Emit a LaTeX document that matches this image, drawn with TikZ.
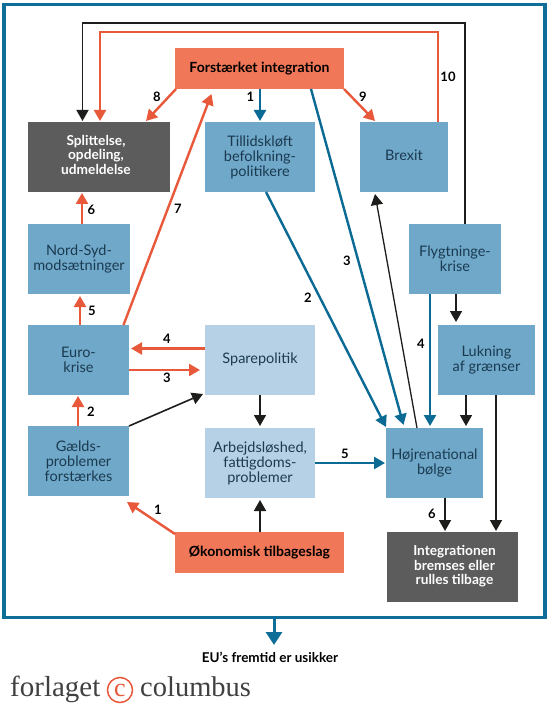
\documentclass[tikz,border=0pt]{standalone}
\usepackage{fontspec}
\setmainfont{Lato}
\newfontfamily\logofont{Liberation Serif}
\usetikzlibrary{arrows.meta}
\definecolor{frameblue}{HTML}{0F6E98}
\definecolor{arrowblue}{HTML}{0A6A93}
\definecolor{boxblue}{HTML}{6FA8C9}
\definecolor{boxlight}{HTML}{B6D1E5}
\definecolor{boxred}{HTML}{F07757}
\definecolor{boxdark}{HTML}{5C5C5C}
\definecolor{arrowred}{HTML}{E8583A}
\definecolor{inkblue}{HTML}{1B3A50}
\definecolor{arrowblack}{HTML}{1D1D1B}
\tikzset{
  x=1pt,y=-1pt,
  basebox/.style={inner sep=0pt,outer sep=0pt,align=center,font=\fontsize{14.5}{15}\selectfont},
  midbox/.style={basebox,fill=boxblue,text=inkblue,minimum height=70pt},
  lightbox/.style={basebox,fill=boxlight,text=inkblue,minimum height=70pt,minimum width=110pt},
  redbox/.style={basebox,fill=boxred,text=black,minimum height=41pt,minimum width=169pt,font=\fontsize{14}{15}\selectfont\bfseries},
  darkbox/.style={basebox,fill=boxdark,text=white,minimum height=70pt,font=\fontsize{13.7}{15}\selectfont\bfseries},
  tipstyle/.style={-{Triangle[length=11pt,width=12pt]}},
  redarrow/.style={tipstyle,draw=arrowred,line width=2.4pt},
  bluearrow/.style={tipstyle,draw=arrowblue,line width=2.4pt},
  blackarrow/.style={tipstyle,draw=arrowblack,line width=1.6pt},
  numlabel/.style={inner sep=0pt,font=\fontsize{13}{14}\selectfont\bfseries,text=black},
}
\begin{document}
\begin{tikzpicture}
\useasboundingbox (0,0) rectangle (550,708);
\fill[white] (0,0) rectangle (550,708);
% frame
\node[draw=frameblue,line width=3.8pt,minimum width=541pt,minimum height=613pt,inner sep=0pt,outer sep=0pt] (frame) at (274.5,311) {};
% boxes
\node[redbox] (forst) at (259.5,68.5) {Forstærket integration};
\node[darkbox,minimum width=142pt] (split) at (99,157) {\hspace*{-6pt}\raisebox{-2pt}{\begin{tabular}{@{}c@{}}Splittelse,\\[-0.2pt]opdeling,\\[-0.2pt]udmeldelse\end{tabular}}};
\node[midbox,minimum width=110pt] (tillid) at (260,157) {Tillidskløft\\befolkning-\\politikere};
\node[midbox,minimum width=88pt] (brexit) at (404,157) {\raisebox{3pt}{Brexit}};
\node[midbox,minimum width=102pt] (nord) at (79,259) {Nord-Syd-\\modsætninger};
\node[midbox,minimum width=92pt] (flygt) at (455,259) {Flygtninge-\\krise};
\node[midbox,minimum width=101pt] (euro) at (78.5,360) {Euro-\\krise};
\node[lightbox] (spare) at (260,360) {\raisebox{3pt}{Sparepolitik}};
\node[midbox,minimum width=97pt] (luk) at (486.5,360) {Lukning\\af grænser};
\node[midbox,minimum width=101pt] (gaeld) at (78.5,461) {Gælds-\\problemer\\forstærkes};
\node[lightbox] (arb) at (260,463) {Arbejdsløshed,\\fattigdoms-\\problemer};
\node[midbox,minimum width=97pt] (hoj) at (434.5,463) {Højrenational\\bølge};
\node[redbox] (okon) at (259.5,552.5) {Økonomisk tilbageslag};
\node[darkbox,minimum width=131pt] (integ) at (452.5,567) {\hspace*{4pt}\begin{tabular}{@{}c@{}}Integrationen\\[-0.2pt]bremses eller\\[-0.2pt]rulles tilbage\end{tabular}};
% top loops
\draw[blackarrow] ([shift={(10,0)}]flygt.north) -- ++(0,-201) -| ([shift={(-16.5,-1)}]split.north);
\draw[redarrow] ([shift={(34,0)}]brexit.north) -- ++(0,-90) -| ([shift={(1,-1)}]split.north);
% red
\draw[redarrow] ([shift={(1,0)}]forst.south west) -- ([shift={(47,-1)}]split.north);
\draw[redarrow] (forst.south east) -- ([shift={(-29,-1)}]brexit.north);
\draw[redarrow] ([shift={(45,0)}]euro.north) -- ([shift={(-48,5)}]forst.south);
\draw[redarrow] ([shift={(3,0)}]nord.north) -- ([shift={(-17,1)}]split.south);
\draw[redarrow] ([shift={(1.5,0)}]euro.north) -- ([shift={(1,2)}]nord.south);
\draw[redarrow] ([shift={(0,-11.5)}]spare.west) -- ([shift={(2,-11.5)}]euro.east);
\draw[redarrow] ([shift={(0,10)}]euro.east) -- ([shift={(-5,10)}]spare.west);
\draw[redarrow] ([shift={(-0.5,0)}]gaeld.north) -- ([shift={(-0.5,1)}]euro.south);
\draw[redarrow] ([shift={(0,2)}]okon.north west) -- ([shift={(-2,6)}]gaeld.south east);
% blue
\draw[bluearrow] ([shift={(0.5,0)}]forst.south) -- ([shift={(0,-1)}]tillid.north);
\draw[bluearrow] ([shift={(6,0)}]tillid.south) -- ([shift={(0,-1)}]hoj.north west);
\draw[bluearrow] ([shift={(51.5,0)}]forst.south) -- ([shift={(-31,-3)}]hoj.north);
\draw[bluearrow] ([shift={(-25,0)}]flygt.south) -- ([shift={(-4.5,-2)}]hoj.north);
\draw[bluearrow] (arb.east) -- ([shift={(-1,0)}]hoj.west);
% black
\draw[blackarrow,line width=1.3pt] ([shift={(-17.5,0)}]hoj.north) -- ([shift={(-29,2)}]brexit.south);
\draw[blackarrow] ([shift={(1,0)}]flygt.south) -- ([shift={(-30.5,-3)}]luk.north);
\draw[blackarrow] ([shift={(-20.5,0)}]luk.south) -- ([shift={(31.5,-2)}]hoj.north);
\draw[blackarrow] ([shift={(9.5,0)}]luk.south) -- ([shift={(43.5,-1)}]integ.north);
\draw[blackarrow] ([shift={(10.5,0)}]hoj.south) -- ([shift={(-7.5,-1)}]integ.north);
\draw[blackarrow] (gaeld.north east) -- ([shift={(-2,-1)}]spare.south west);
\draw[blackarrow] (spare.south) -- ([shift={(0,-2)}]arb.north);
\draw[blackarrow] ([shift={(0.5,0)}]okon.north) -- ([shift={(0,2)}]arb.south);
% bottom
\coordinate (outend) at (274,645);
\draw[draw=frameblue,line width=3pt,-{Triangle[length=13pt,width=16pt]}] (frame.south -| outend) -- (outend);
\node[inner sep=0pt,font=\fontsize{13.5}{14}\selectfont\bfseries,text=black] (fate) at (270,657.5) {EU’s fremtid er usikker};
% logo
\node[inner sep=0pt,anchor=base west,font=\logofont\fontsize{29}{32}\selectfont,text=black!75] (logoa) at (10,696) {forlaget};
\node[circle,draw=arrowred,line width=1.5pt,minimum size=25pt,inner sep=0pt,font=\logofont\fontsize{26}{26}\selectfont,text=arrowred] (logoc) at (120,690) {c};
\node[inner sep=0pt,anchor=base west,font=\logofont\fontsize{28.5}{32}\selectfont,text=black!75] (logob) at (140,696) {columbus};
% numbers
\node[numlabel] (n1) at (157,97) {8};
\node[numlabel] (n2) at (250.5,97) {1};
\node[numlabel] (n3) at (363,97) {9};
\node[numlabel] (n4) at (448,77) {10};
\node[numlabel] (n5) at (91.5,210) {6};
\node[numlabel] (n6) at (178,209) {7};
\node[numlabel] (n7) at (308,298) {2};
\node[numlabel] (n8) at (347,261) {3};
\node[numlabel] (n9) at (421,344) {4};
\node[numlabel] (n10) at (92,311) {5};
\node[numlabel] (n11) at (167,339) {4};
\node[numlabel] (n12) at (167,378) {3};
\node[numlabel] (n13) at (91,412) {2};
\node[numlabel] (n14) at (158,510) {1};
\node[numlabel] (n15) at (345,454) {5};
\node[numlabel] (n16) at (432,514) {6};
\end{tikzpicture}
\end{document}
